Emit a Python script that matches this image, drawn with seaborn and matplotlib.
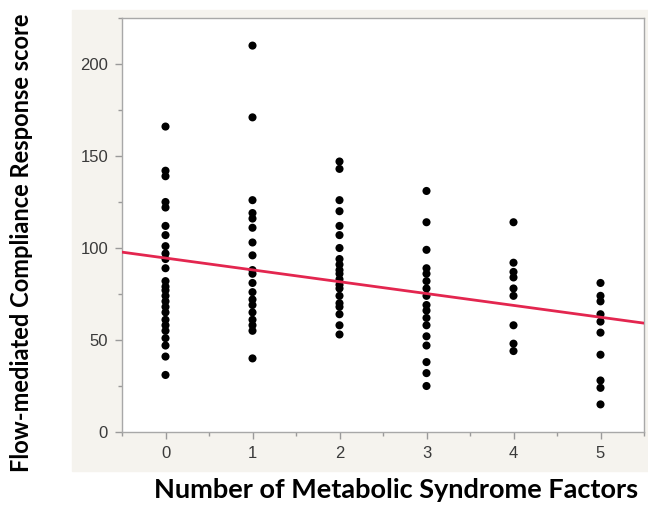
import numpy as np
import pandas as pd
import matplotlib
matplotlib.use("Agg")
import matplotlib.pyplot as plt
import seaborn as sns
from matplotlib.patches import Rectangle
from matplotlib.ticker import MultipleLocator

# valores leídos a ojo del gráfico original
factores = [0, 1, 2, 3, 4, 5]
col_0 = [166, 142, 139, 125, 122, 112, 107, 101, 97, 94, 89, 82, 79, 77, 74,
         71, 68, 65, 61, 58, 55, 51, 47, 41, 31]
col_1 = [210, 171, 126, 119, 116, 111, 103, 96, 88, 86, 81, 76, 72, 69, 65,
         61, 58, 55, 40]
col_2 = [147, 143, 126, 120, 112, 107, 100, 94, 91, 88, 86, 83, 80, 78, 74,
         70, 68, 64, 58, 53]
col_3 = [131, 114, 99, 89, 86, 82, 78, 74, 69, 66, 62, 58, 52, 47, 38, 32, 25]
col_4 = [114, 92, 87, 84, 78, 74, 58, 48, 44]
col_5 = [81, 74, 71, 64, 60, 54, 42, 28, 24, 15]
scores = [col_0, col_1, col_2, col_3, col_4, col_5]
y_ticks = [0, 50, 100, 150, 200]

df = pd.DataFrame({
    "factores": np.repeat(factores, [len(c) for c in scores]),
    "score": np.concatenate(scores),
})

sns.set_theme(style="ticks")
plt.rcParams["font.family"] = ["Liberation Sans", "DejaVu Sans"]

W, H = 648, 505
fig = plt.figure(figsize=(W / 100, H / 100), dpi=100)

# panel beige de fondo
fig.patches.append(Rectangle((72 / W, (H - 471) / H), 1, 461 / H,
                             transform=fig.transFigure, color="#f5f3ee", zorder=-5))

ax = fig.add_axes([122 / W, (H - 432) / H, (644 - 122) / W, (432 - 18) / H])
ax.set_zorder(1)
ax.set_facecolor("white")
ax.set_xlim(-0.5, 5.5)
ax.set_ylim(0, 225)

sns.scatterplot(data=df, x="factores", y="score", color="black", s=34,
                edgecolor="none", ax=ax, zorder=2, legend=False)
sns.regplot(data=df, x="factores", y="score", scatter=False, ci=None,
            truncate=False, line_kws=dict(color="#e3264f", lw=2, zorder=3), ax=ax)
ax.set_xlim(-0.5, 5.5)
ax.set_ylim(0, 225)

ax.set_xticks(factores)
ax.set_yticks(y_ticks)
ax.xaxis.set_minor_locator(MultipleLocator(0.5))
ax.yaxis.set_minor_locator(MultipleLocator(25))
ax.tick_params(which="major", length=5, width=1, color="#9a9a9a",
               labelsize=12, labelcolor="#3a3a3a", pad=5)
ax.tick_params(which="minor", length=3, width=1, color="#9a9a9a")
for s in ax.spines.values():
    s.set_color("#a8a8a8")
    s.set_linewidth(1)

ax.set_xlabel("")
ax.set_ylabel("")
fig.text(22 / W, 1 - 243 / H, "Flow-mediated Compliance Response score",
         rotation=90, ha="center", va="center", fontsize=17, fontweight="bold",
         family=["Lato", "DejaVu Sans"], color="black")
fig.text(396 / W, 1 - 490 / H, "Number of Metabolic Syndrome Factors",
         ha="center", va="center", fontsize=19.5, fontweight="bold",
         family=["Lato", "DejaVu Sans"], color="black")

fig.savefig("out.png", dpi=100, facecolor="white")
